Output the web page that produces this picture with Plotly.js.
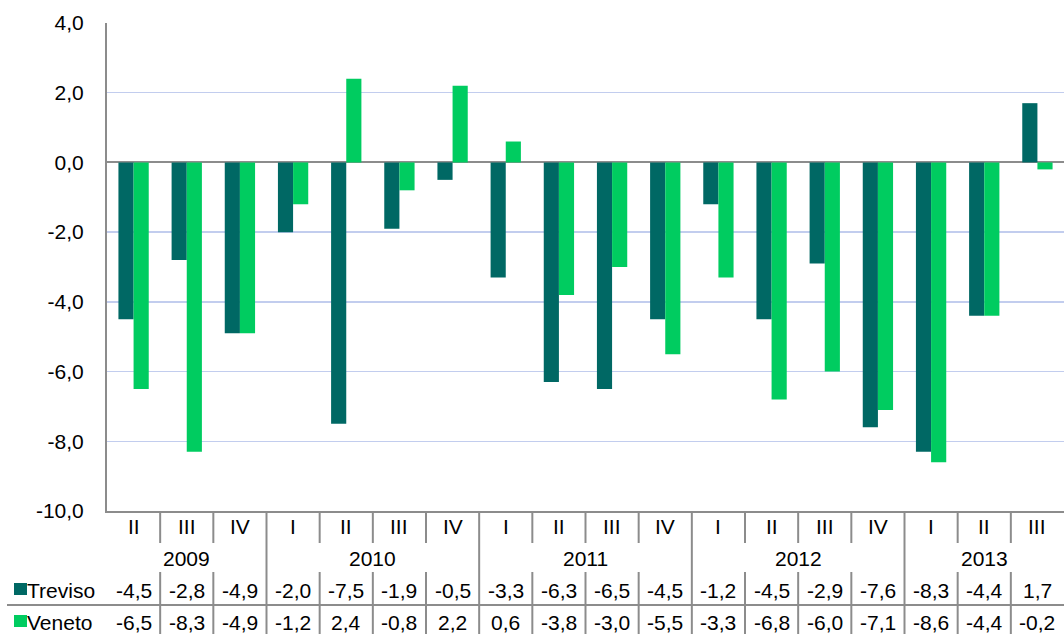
<!DOCTYPE html>
<html>
<head>
<meta charset="utf-8">
<script src="https://cdn.plot.ly/plotly-3.0.1.min.js"></script>
<style>html,body{margin:0;padding:0;background:#fff;}#chart{width:1064px;height:634px;}</style>
</head>
<body>
<div id="chart"></div>
<script>
// Data
var quarters = ['II','III','IV','I','II','III','IV','I','II','III','IV','I','II','III','IV','I','II','III'];
var pointYears = ['2009','2009','2009','2010','2010','2010','2010','2011','2011','2011','2011','2012','2012','2012','2012','2013','2013','2013'];
var yearLabels = ['2009','2010','2011','2012','2013'];
var treviso = [-4.5,-2.8,-4.9,-2.0,-7.5,-1.9,-0.5,-3.3,-6.3,-6.5,-4.5,-1.2,-4.5,-2.9,-7.6,-8.3,-4.4,1.7];
var veneto  = [-6.5,-8.3,-4.9,-1.2,2.4,-0.8,2.2,0.6,-3.8,-3.0,-5.5,-3.3,-6.8,-6.0,-7.1,-8.6,-4.4,-0.2];
var seriesNames = ['Treviso','Veneto'];
var yTickVals = [4,2,0,-2,-4,-6,-8,-10];
var yTickText = ['4,0','2,0','0,0','-2,0','-4,0','-6,0','-8,0','-10,0'];

var colTreviso = '#006864';
var colVeneto = '#00CC60';
var lineCol = '#8c8c8c';
var fontFam = '"Liberation Sans", Arial, sans-serif';
var fs = 21;

var cats = quarters.map(function(q,i){ return pointYears[i] + ' ' + q; });

var traces = [
  {type:'bar', name:seriesNames[0], x:cats, y:treviso, marker:{color:colTreviso, line:{width:0}}, hoverinfo:'y'},
  {type:'bar', name:seriesNames[1], x:cats, y:veneto, marker:{color:colVeneto, line:{width:0}}, hoverinfo:'y'}
];

function fmt(v){ return v.toFixed(1).replace('.', ','); }

var plotTop = 23, plotBot = 511, plotH = plotBot - plotTop, plotL = 107, plotW = 957;
function py(px){ return (plotBot - px) / plotH; }
function pxx(px){ return (px - plotL) / plotW; }

var annotations = [];
var shapes = [];
var n = cats.length;

quarters.forEach(function(q,i){
  annotations.push({xref:'x', yref:'paper', x:i, y:py(526), text:q, showarrow:false,
    font:{family:fontFam, size:fs, color:'#000'}, xanchor:'center', yanchor:'middle'});
});
yearLabels.forEach(function(yr){
  var idx = [];
  pointYears.forEach(function(p,i){ if(p===yr) idx.push(i); });
  var c = (idx[0] + idx[idx.length-1]) / 2;
  annotations.push({xref:'x', yref:'paper', x:c, y:py(558), text:yr, showarrow:false,
    font:{family:fontFam, size:fs, color:'#000'}, xanchor:'center', yanchor:'middle'});
});
[treviso, veneto].forEach(function(arr, r){
  var yc = r===0 ? 590 : 622;
  arr.forEach(function(v,i){
    annotations.push({xref:'x', yref:'paper', x:i, y:py(yc), text:fmt(v), showarrow:false,
      font:{family:fontFam, size:fs, color:'#000'}, xanchor:'center', yanchor:'middle'});
  });
  annotations.push({xref:'paper', yref:'paper', x:pxx(25), y:py(yc), text:seriesNames[r], showarrow:false,
    font:{family:fontFam, size:fs, color:'#000'}, xanchor:'left', yanchor:'middle'});
  var sqTop = r===0 ? 583 : 615;
  shapes.push({type:'rect', xref:'paper', yref:'paper', x0:pxx(14), x1:pxx(27), y0:py(sqTop), y1:py(sqTop+12),
    fillcolor: r===0 ? colTreviso : colVeneto, line:{width:0}});
});

for (var i = 1; i < n; i++) {
  var isYearBoundary = pointYears[i] !== pointYears[i-1];
  if (isYearBoundary) {
    shapes.push({type:'line', xref:'x', yref:'paper', x0:i-0.5, x1:i-0.5, y0:py(511), y1:py(640), line:{color:lineCol, width:2}});
  } else {
    shapes.push({type:'line', xref:'x', yref:'paper', x0:i-0.5, x1:i-0.5, y0:py(511), y1:py(543), line:{color:lineCol, width:2}});
    shapes.push({type:'line', xref:'x', yref:'paper', x0:i-0.5, x1:i-0.5, y0:py(572), y1:py(640), line:{color:lineCol, width:2}});
  }
}
shapes.push({type:'line', xref:'paper', yref:'paper', x0:pxx(7), x1:1, y0:py(605), y1:py(605), line:{color:lineCol, width:2}});

var layout = {
  width:1064, height:634,
  margin:{l:107, r:0, t:23, b:123, pad:0},
  paper_bgcolor:'#fff', plot_bgcolor:'#fff',
  showlegend:false,
  barmode:'group',
  bargap:0.43,
  bargroupgap:0,
  font:{family:fontFam, size:fs, color:'#000'},
  xaxis:{type:'category', showticklabels:false, ticks:'', showgrid:false, zeroline:false,
    showline:true, linecolor:lineCol, linewidth:2, range:[-0.5, n-0.5], fixedrange:true},
  yaxis:{range:[-10,4], tickmode:'array', tickvals:yTickVals, ticktext:yTickText,
    showgrid:true, gridcolor:'#c2cdee', gridwidth:1.5,
    zeroline:true, zerolinecolor:lineCol, zerolinewidth:2,
    showline:true, linecolor:lineCol, linewidth:2,
    ticks:'outside', ticklen:17, tickcolor:'rgba(0,0,0,0)',
    tickfont:{family:fontFam, size:fs, color:'#000'}, fixedrange:true},
  annotations:annotations,
  shapes:shapes
};

Plotly.newPlot('chart', traces, layout, {displayModeBar:false, staticPlot:true});
</script>
</body>
</html>
